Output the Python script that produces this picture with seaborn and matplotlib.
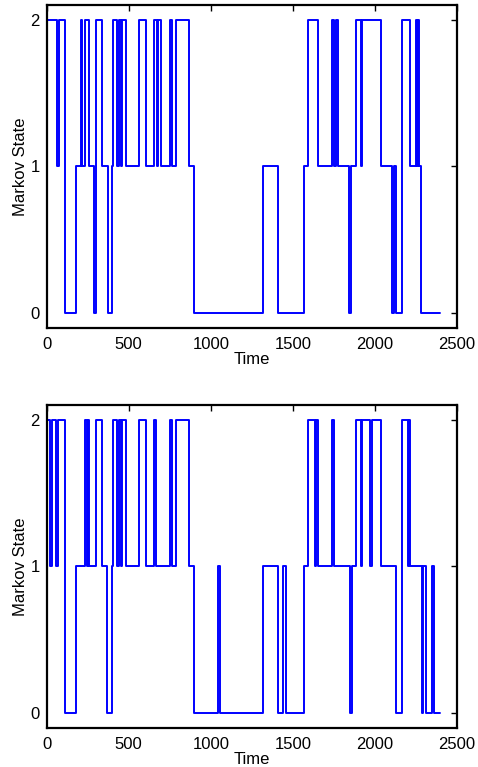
import matplotlib
matplotlib.use("Agg")
import matplotlib.pyplot as plt
import seaborn as sns
import pandas as pd

# Switching times (change points) and the state entered at each one.
# The last time closes the final segment.
times_a = [0, 65, 75, 111, 176, 207, 217, 233, 260, 290, 298, 337, 371, 396,
           406, 430, 440, 451, 457, 483, 562, 605, 655, 670, 680, 694, 751,
           765, 787, 869, 897, 1319, 1407, 1569, 1593, 1654, 1736, 1750, 1760,
           1772, 1840, 1852, 1884, 1914, 1922, 2036, 2101, 2115, 2131, 2162,
           2212, 2249, 2256, 2262, 2270, 2283, 2395]
states_a = [2, 1, 2, 0, 1, 2, 1, 2, 1, 0, 2, 1, 0, 1,
            2, 1, 2, 1, 2, 1, 2, 1, 2, 1, 2, 1, 2,
            1, 2, 1, 0, 1, 0, 1, 2, 1, 2, 1, 2,
            1, 0, 1, 2, 1, 2, 1, 0, 1, 0, 2,
            1, 2, 1, 2, 1, 0, 0]

times_b = [0, 20, 34, 55, 71, 111, 176, 233, 243, 250, 260, 298, 337, 365,
           396, 406, 430, 440, 451, 457, 483, 562, 605, 655, 666, 751, 761,
           787, 869, 897, 1042, 1055, 1319, 1407, 1441, 1455, 1569, 1593,
           1634, 1641, 1654, 1736, 1752, 1847, 1858, 1884, 1914, 1922, 1969,
           1979, 2036, 2131, 2162, 2203, 2208, 2214, 2286, 2292, 2312, 2345,
           2358, 2395]
states_b = [2, 1, 2, 1, 2, 0, 1, 2, 1, 2, 1, 2, 1, 0,
            1, 2, 1, 2, 1, 2, 1, 2, 1, 2, 1, 2, 1,
            2, 1, 0, 1, 0, 1, 0, 1, 0, 1, 2,
            1, 2, 1, 2, 1, 0, 1, 2, 1, 2, 1,
            2, 1, 0, 2, 1, 2, 1, 0, 1, 0, 1,
            0, 0]

x_ticks = [0, 500, 1000, 1500, 2000, 2500]
y_ticks = [0, 1, 2]

sns.set_style("white")
plt.rcParams["font.family"] = ["Liberation Sans", "DejaVu Sans"]
plt.rcParams["xtick.direction"] = "in"
plt.rcParams["ytick.direction"] = "in"
for key in ["text.color", "axes.labelcolor", "xtick.color", "ytick.color",
            "xtick.labelcolor", "ytick.labelcolor"]:
    plt.rcParams[key] = "black"

fig = plt.figure(figsize=(4.78, 7.67), dpi=100)
ax_top = fig.add_axes([0.0977, 0.5728, 0.8584, 0.4207])
ax_bot = fig.add_axes([0.0977, 0.0512, 0.8584, 0.4207])

for ax, t, s in [(ax_top, times_a, states_a), (ax_bot, times_b, states_b)]:
    df = pd.DataFrame({"Time": t, "State": s})
    sns.lineplot(data=df, x="Time", y="State", ax=ax, color="#0000ff",
                 linewidth=1.4, drawstyle="steps-post", estimator=None,
                 sort=False)
    ax.set_xlim(0, 2500)
    ax.set_ylim(-0.1, 2.1)
    ax.set_xticks(x_ticks)
    ax.set_yticks(y_ticks)
    ax.tick_params(axis="both", labelsize=12, length=4, width=1.0,
                   top=True, right=True, pad=7, color="black",
                   labelcolor="black")
    ax.tick_params(axis="y", pad=5)
    for sp in ax.spines.values():
        sp.set_color("black")
        sp.set_linewidth(1.6)
    ax.set_xlabel("Time", fontsize=12, labelpad=0, color="black")
    ax.set_ylabel("Markov State", fontsize=12, labelpad=2, color="black")

fig.savefig("out.png", dpi=100)
